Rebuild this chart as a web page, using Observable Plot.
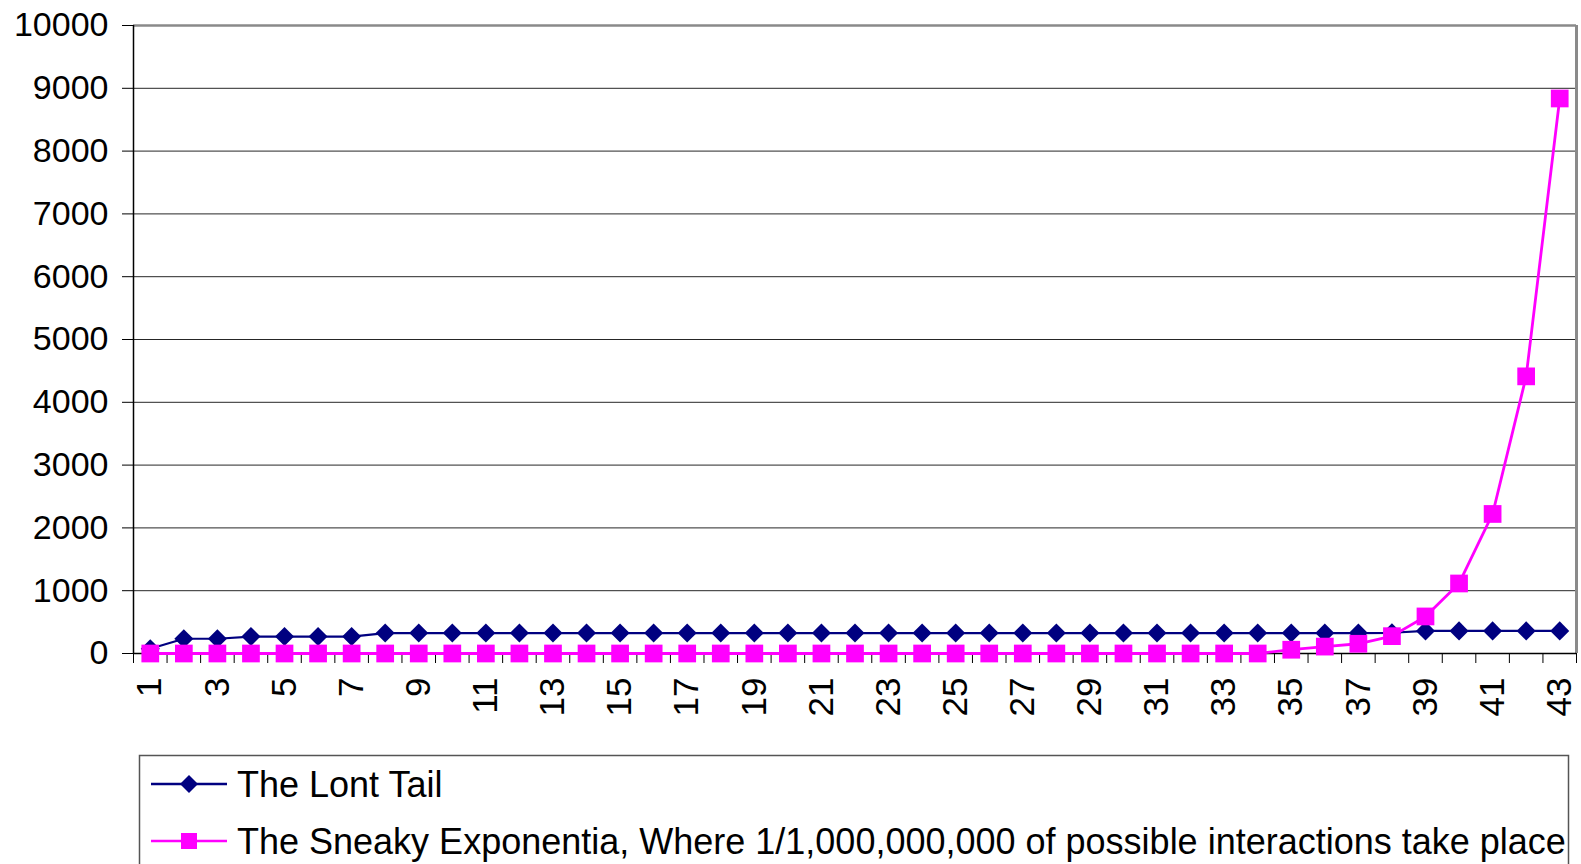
<!DOCTYPE html>
<html><head><meta charset="utf-8">
<script src="https://cdn.jsdelivr.net/npm/d3@7"></script>
<script src="https://cdn.jsdelivr.net/npm/@observablehq/plot@0.6"></script>
<style>
body{margin:0;background:#fff;font-family:"Liberation Sans",Arial,sans-serif;overflow:hidden}
svg{display:block}
</style>
</head><body><div id="chart"></div>
<script>
const categories = [1,2,3,4,5,6,7,8,9,10,11,12,13,14,15,16,17,18,19,20,21,22,23,24,25,26,27,28,29,30,31,32,33,34,35,36,37,38,39,40,41,42,43];
const longTail = [75,235,235,270,270,270,270,325,325,325,325,325,325,325,325,325,325,325,325,325,325,325,325,325,325,325,325,325,325,325,325,325,325,325,325,325,325,330,360,360,360,360,360];
const sneaky = [0,0,0,0,0,0,0,0,0,0,0,0,0,0,0,0,0,0,0,0,0,0,0,0,0,0,0,0,0,0,0,0,0,0,60,110,155,276,590,1115,2222,4413,8838];
const seriesNames = ["The Lont Tail", "The Sneaky Exponentia, Where 1/1,000,000,000 of possible interactions take place"];
const seriesColors = ["#000080", "#FF00FF"];
const yTicks = [0,1000,2000,3000,4000,5000,6000,7000,8000,9000,10000];
const xLabelTicks = [1,3,5,7,9,11,13,15,17,19,21,23,25,27,29,31,33,35,37,39,41,43];

const rows = categories.map((c, i) => ({x: c, longTail: longTail[i], sneaky: sneaky[i]}));
const boundaries = categories.map(c => c - 0.5).concat([categories[categories.length - 1] + 0.5]);
const diamond = {draw(ctx, size) { const r = Math.sqrt(size / 2); ctx.moveTo(0, -r); ctx.lineTo(r, 0); ctx.lineTo(0, r); ctx.lineTo(-r, 0); ctx.closePath(); }};
const font = '"Liberation Sans", Arial, sans-serif';

const plot = Plot.plot({
  width: 1581, height: 745,
  marginLeft: 133, marginRight: 5, marginTop: 25, marginBottom: 92,
  style: {fontFamily: font, fontSize: "34px", color: "#000", background: "#fff", overflow: "visible"},
  x: {domain: [boundaries[0], boundaries[boundaries.length - 1]], label: null},
  y: {domain: [0, 10000], label: null},
  marks: [
    Plot.gridY(yTicks, {stroke: "#000", strokeOpacity: 0.85, strokeWidth: 1}),
    Plot.ruleY([yTicks[yTicks.length - 1]], {stroke: "#8a8a8a", strokeWidth: 2.5}),
    Plot.ruleX([boundaries[boundaries.length - 1]], {stroke: "#8a8a8a", strokeWidth: 3}),
    Plot.axisY(yTicks, {tickSize: 11, tickPadding: 14, tickFormat: d => String(d), fontSize: 34, stroke: "#000"}),
    Plot.axisX(boundaries, {tickSize: 10, tickFormat: () => "", stroke: "#000"}),
    Plot.axisX(xLabelTicks, {tickSize: 0, tickPadding: 24, tickRotate: -90, tickFormat: d => String(d), fontSize: 35}),
    Plot.ruleX([boundaries[0]], {stroke: "#000", strokeWidth: 1.5}),
    Plot.ruleY([0], {stroke: "#000", strokeWidth: 1.5}),
    Plot.line(rows, {x: "x", y: "longTail", stroke: seriesColors[0], strokeWidth: 2.2}),
    Plot.dot(rows, {x: "x", y: "longTail", fill: seriesColors[0], symbol: diamond, r: 7.6}),
    Plot.line(rows, {x: "x", y: "sneaky", stroke: seriesColors[1], strokeWidth: 2.8}),
    Plot.dot(rows, {x: "x", y: "sneaky", fill: seriesColors[1], symbol: "square", r: 10})
  ]
});
document.getElementById("chart").appendChild(plot);

// Legend below the chart
const legend = d3.select("#chart").append("svg")
  .attr("width", 1581).attr("height", 119)
  .style("font-family", font);
legend.append("rect")
  .attr("x", 139.5).attr("y", 10.5).attr("width", 1429).attr("height", 200)
  .attr("fill", "#fff").attr("stroke", "#555").attr("stroke-width", 1.5);
const rowY = [39, 96];
seriesNames.forEach((name, i) => {
  const g = legend.append("g").attr("transform", `translate(0,${rowY[i]})`);
  g.append("line").attr("x1", 151).attr("x2", 227).attr("y1", 0).attr("y2", 0)
    .attr("stroke", seriesColors[i]).attr("stroke-width", 2.5);
  if (i === 0) {
    g.append("path").attr("d", "M189,-9L198,0L189,9L180,0Z").attr("fill", seriesColors[i]);
  } else {
    g.append("rect").attr("x", 181).attr("y", -8).attr("width", 16).attr("height", 16).attr("fill", seriesColors[i]);
  }
  g.append("text").attr("x", 237).attr("y", 0).attr("dy", "0.35em")
    .attr("font-size", 36).attr("fill", "#000").text(name);
});
</script>
</body></html>
